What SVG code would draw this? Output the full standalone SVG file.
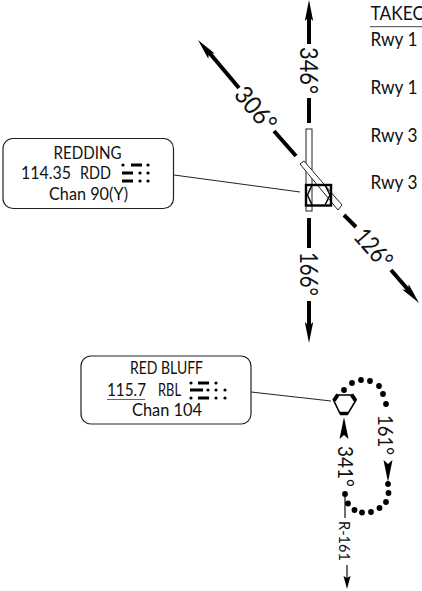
<svg xmlns="http://www.w3.org/2000/svg" width="422" height="591" viewBox="0 0 422 591">
<style>
text{font-family:"Lato","Liberation Sans",sans-serif;fill:#111}
.box{fill:#fff;stroke:#222;stroke-width:1.2}
.t{font-size:17.5px;text-anchor:middle}
.s{font-size:17.5px}
.r{font-size:18.5px}
.h{font-size:25px;text-anchor:middle}
.ld{fill:none;stroke:#222;stroke-width:1}
.th{stroke:#000;stroke-width:4;fill:none}
.rw{fill:#fff;stroke:#222;stroke-width:1}
</style>
<defs>
<path id="ah" d="M0 0L4.200 21L0 17L-4.200 21Z" fill="#000"/>
<circle id="d" r="2.900" fill="#000"/>
<circle id="m" r="1.600" fill="#000"/>
</defs>
<g id="connectors">
<path class="ld" d="M174 175L300 192"/>
<path class="ld" d="M251 392L331 401"/>
<path class="th" d="M309 12V44M309 98V123M309 218V248M309 301V330"/>
<path class="th" d="M207 50L239 88M274 131L296 156M344 215L356 227M391 270L411 293"/>
<use href="#ah" transform="translate(309 0)"/>
<use href="#ah" transform="translate(309 343) rotate(180)"/>
<use href="#ah" transform="translate(198 40) rotate(-40)"/>
<use href="#ah" transform="translate(419 303) rotate(140)"/>
<path class="ld" style="stroke-width:1.300" d="M345 494V518M347 565V580"/>
<path d="M347 589L343.500 576L347 578L350.500 576Z" fill="#000"/>
<path d="M344 417L348.500 439L344 435L339.500 439Z" fill="#000"/>
<path d="M388 482L392.500 460L388 464L383.500 460Z" fill="#000"/>
<use href="#d" x="344" y="390"/><use href="#d" x="352" y="383"/><use href="#d" x="361" y="380"/><use href="#d" x="370" y="381"/><use href="#d" x="379" y="386"/><use href="#d" x="383" y="394"/><use href="#d" x="386" y="404"/>
<use href="#d" x="388" y="484"/><use href="#d" x="388.500" y="493"/><use href="#d" x="386" y="502"/><use href="#d" x="379.500" y="508"/><use href="#d" x="371" y="512"/><use href="#d" x="362" y="512.500"/><use href="#d" x="354.500" y="510"/><use href="#d" x="348" y="503.500"/><use href="#d" x="345" y="494"/>
</g>
<g id="labels">
<text class="h" textLength="47" lengthAdjust="spacingAndGlyphs" transform="translate(300 70.500) rotate(90)">346°</text>
<text class="h" textLength="44" lengthAdjust="spacingAndGlyphs" transform="translate(300 274) rotate(90)">166°</text>
<text class="h" textLength="50" lengthAdjust="spacingAndGlyphs" transform="translate(249 114.500) rotate(50)">306°</text>
<text class="h" textLength="44" lengthAdjust="spacingAndGlyphs" transform="translate(367 254) rotate(49)">126°</text>
<text class="h" style="font-size:20.500px" textLength="41" lengthAdjust="spacingAndGlyphs" transform="translate(337.500 466.500) rotate(90)">341°</text>
<text class="h" style="font-size:21.500px" textLength="40" lengthAdjust="spacingAndGlyphs" transform="translate(378 435) rotate(90)">161°</text>
<text class="h" style="font-size:15px" textLength="40" lengthAdjust="spacingAndGlyphs" transform="translate(339 541) rotate(90)">R-161</text>
<text class="r" x="370.500" y="20" textLength="56" lengthAdjust="spacingAndGlyphs">TAKEO</text>
<path d="M370 26.700H422" stroke="#444" stroke-width="1"/>
<text class="r" x="370.500" y="46" textLength="47" lengthAdjust="spacingAndGlyphs">Rwy 1</text>
<text class="r" x="370.500" y="94" textLength="47" lengthAdjust="spacingAndGlyphs">Rwy 1</text>
<text class="r" x="370.500" y="142" textLength="47" lengthAdjust="spacingAndGlyphs">Rwy 3</text>
<text class="r" x="370.500" y="189" textLength="47" lengthAdjust="spacingAndGlyphs">Rwy 3</text>
</g>
<g id="redding-airport">
<rect class="rw" x="306" y="129" width="6" height="82"/>
<path class="rw" d="M300 164L304 161L342 205L338 210Z"/>
<path d="M305.700 165L312.400 171.300V178L305.700 170Z" fill="#fff"/>
<rect x="306" y="185" width="25" height="20.500" fill="none" stroke="#000" stroke-width="2.400"/>
<path d="M312 185L307.500 195L312 205M325 185L330 195L325 205" fill="none" stroke="#000" stroke-width="1.500"/>
</g>
<g id="redding">
<rect class="box" x="3" y="138.500" width="170.500" height="70" rx="10"/>
<text class="t" x="87.500" y="159" textLength="68" lengthAdjust="spacingAndGlyphs">REDDING</text>
<text class="s" x="21" y="179" textLength="50" lengthAdjust="spacingAndGlyphs">114.35</text>
<text class="s" x="80" y="179" textLength="31" lengthAdjust="spacingAndGlyphs">RDD</text>
<text class="t" x="88.500" y="200" textLength="79" lengthAdjust="spacingAndGlyphs">Chan 90(Y)</text>
<use href="#m" x="123" y="165"/><rect x="131" y="163.500" width="11" height="3"/><use href="#m" x="148" y="165"/><rect x="122" y="171.500" width="11" height="3"/><use href="#m" x="140" y="173"/><use href="#m" x="148" y="173"/><rect x="122" y="179.500" width="11" height="3"/><use href="#m" x="140" y="181"/><use href="#m" x="148" y="181"/>
</g>
<g id="red-bluff">
<rect class="box" x="81" y="356" width="170" height="68" rx="10"/>
<text class="t" x="166.500" y="374" textLength="73" lengthAdjust="spacingAndGlyphs">RED BLUFF</text>
<text class="s" x="107" y="396" textLength="39" lengthAdjust="spacingAndGlyphs">115.7</text>
<path d="M107 399.500H145" stroke="#666" stroke-width="1.200"/>
<text class="s" x="158" y="396" textLength="23" lengthAdjust="spacingAndGlyphs">RBL</text>
<text class="t" x="167" y="416" textLength="70" lengthAdjust="spacingAndGlyphs">Chan 104</text>
<use href="#m" x="191" y="383"/><rect x="198" y="381.500" width="11" height="3"/><use href="#m" x="216" y="383"/><rect x="190" y="388.500" width="13" height="3"/><use href="#m" x="208" y="390"/><use href="#m" x="216" y="390"/><use href="#m" x="225" y="390"/><use href="#m" x="191" y="398"/><rect x="198" y="396.500" width="11" height="3"/><use href="#m" x="216" y="398"/><use href="#m" x="225" y="398"/>
</g>
<g id="red-bluff-vor">
<path d="M337 395H352L356 400L348 413.500H340L333.500 400Z" fill="none" stroke="#000" stroke-width="1.600"/>
<path d="M334 400.500L338 394.500M355.500 400.500L351.500 394.500" fill="none" stroke="#000" stroke-width="4"/>
<path d="M340 413.500H348" fill="none" stroke="#000" stroke-width="3.500"/>
</g>
</svg>
